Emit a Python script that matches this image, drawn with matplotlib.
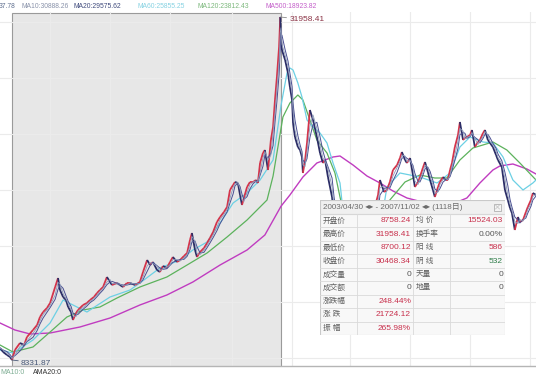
import numpy as np
import pandas as pd
import matplotlib
matplotlib.use('Agg')
import matplotlib.pyplot as plt
from matplotlib.collections import LineCollection
from matplotlib.patches import Rectangle

plt.rcParams['font.family'] = ['Liberation Sans', 'Noto Sans CJK SC', 'DejaVu Sans']

# trading day index, 0 = 2003/04/30, 1117 = 2007/11/02
days = [-50, -37, -21, -8, 0, 12, 33, 50, 62, 87, 104, 116, 129, 145, 158, 179, 191, 199, 212, 224,
        233, 245, 253, 266, 274, 295, 311, 324, 340, 353, 365, 378, 394, 407, 415, 436, 448, 461, 477, 490,
        511, 531, 544, 561, 573, 585, 602, 614, 627, 643, 656, 668, 685, 698, 714, 727, 739, 747, 760, 768,
        781, 797, 810, 822, 835, 851, 864, 880, 893, 905, 918, 926, 938, 947, 955, 963, 976, 988, 1001, 1013,
        1021, 1030, 1042, 1050, 1063, 1075, 1084, 1092, 1100, 1109, 1114, 1117, 1121, 1134, 1146, 1154, 1163, 1167, 1175, 1187,
        1196, 1204, 1208, 1217, 1225, 1237, 1250, 1266, 1279, 1291, 1300, 1312, 1329, 1337, 1349, 1362, 1374, 1387, 1403, 1420,
        1437, 1453, 1470, 1486, 1503, 1520, 1528, 1545, 1557, 1569, 1582, 1599, 1611, 1619, 1632, 1640, 1653, 1665, 1673, 1686,
        1694, 1706, 1715, 1727, 1736, 1748, 1756, 1769, 1777, 1790, 1802, 1810, 1819, 1827, 1839, 1852, 1860, 1873, 1881, 1889,
        1902, 1910, 1922, 1935, 1943, 1956, 1964, 1976, 1985, 1997, 2010, 2018, 2034, 2047, 2059, 2068, 2076, 2088, 2101, 2109,
        2122, 2134, 2142, 2155, 2163, 2176]
close = [9159, 8883, 8677, 8539, 8331.87, 9021, 9503, 9365, 9916, 10399, 10743, 11294, 11638, 11914, 12258, 13360, 13980, 13154, 12672, 12465,
         11983, 11638, 11087, 11570, 11776, 12121, 12258, 12465, 12672, 12947, 13154, 13360, 14049, 13705, 13498, 13636, 13498, 13360, 13636, 13636,
         13498, 13705, 14394, 15220, 14876, 15082, 14531, 14394, 14807, 14669, 15082, 15427, 15082, 15220, 15496, 15702, 16598, 17080, 15909, 15427,
         15771, 16047, 16391, 16736, 17149, 17838, 18182, 18526, 18871, 20042, 20386, 20593, 20524, 19697, 19009, 19491, 20248, 20593, 20593, 20731,
         20524, 21902, 22590, 22797, 21419, 23486, 24381, 26241, 27825, 29892, 31958.41, 30468.34, 29685, 28996, 28101, 27136, 26241, 24657, 23692, 23004,
         22797, 22315, 21213, 22108, 23279, 25552, 24863, 23692, 22590, 21902, 22108, 20937, 19560, 18320, 16598, 14531, 12465, 11294, 12121, 11638,
         12465, 14187, 15565, 17287, 18664, 19697, 20731, 19904, 20042, 20593, 21419, 21764, 22246, 22659, 22108, 21902, 22246, 21075, 20248, 20593,
         20937, 21557, 21970, 21282, 20731, 20042, 19560, 20248, 20593, 20937, 20731, 20731, 21419, 21902, 23004, 23830, 24726, 23486, 23624, 23692,
         23830, 24175, 23004, 23348, 23486, 23968, 24175, 23486, 23279, 23004, 22453, 22108, 21626, 20042, 19353, 18802, 18458, 17287, 18182, 17838,
         17975, 18526, 18871, 19353, 19835, 19697]

ma60_days = [-50, 4, 87, 158, 212, 253, 311, 407, 490, 531, 614, 698, 751, 810, 864, 918, 976, 1030, 1084, 1117,
             1142, 1154, 1167, 1187, 1204, 1225, 1250, 1279, 1308, 1333, 1362, 1374, 1424, 1466, 1507, 1557, 1611, 1694, 1765, 1819,
             1860, 1902, 1956, 1997, 2039, 2080, 2122, 2163, 2176]
ma60 = [9021, 8814, 9710, 10881, 12465, 12121, 11638, 12672, 13154, 13636, 14669, 15220, 15909, 16460, 17769, 19146, 19835, 20731, 22108, 25855,
        28101, 28445, 28307, 27412, 26448, 24863, 24381, 23968, 23279, 21902, 20524, 18664, 14531, 12465, 15220, 20248, 21213, 20937, 20524, 21213,
        23004, 23692, 23348, 23279, 22315, 20731, 20042, 20524, 20731]

ma120_days = [-50, 4, 87, 158, 228, 295, 365, 436, 531, 643, 727, 810, 893, 976, 1059, 1084, 1125, 1154, 1187, 1208,
              1237, 1266, 1308, 1341, 1362, 1403, 1466, 1486, 1549, 1569, 1632, 1694, 1756, 1806, 1860, 1914, 1997, 2055, 2109, 2176]
ma120 = [9365, 8883, 9228, 10261, 11294, 11776, 11983, 12603, 13360, 14049, 14876, 15702, 16804, 17975, 19353, 21000, 25070, 26034, 26585, 26241,
         24863, 23486, 22590, 21213, 19560, 16598, 13843, 13498, 17631, 19353, 20593, 21075, 20868, 20868, 22108, 22935, 23348, 22797, 21902, 20731]

ma500_days = [-50, 12, 75, 158, 282, 407, 531, 643, 751, 864, 976, 1050, 1117, 1154, 1208, 1266, 1333, 1362, 1416, 1474,
              1528, 1582, 1640, 1736, 1819, 1889, 1943, 1997, 2026, 2080, 2138, 2176]
ma500 = [10881, 10399, 10123, 10192, 10605, 11225, 12121, 12809, 13705, 14876, 15909, 16942, 18924, 19697, 20937, 21902, 22315, 22384, 21764, 21006,
         20524, 19973, 19491, 19077, 19009, 19491, 20524, 21419, 21695, 21833, 21489, 21144]

sel_start, sel_end = 0, 1117
peak_day, peak_val = 1114, 31958.41
low_day, low_val = 0, 8331.87

top_labels = ['37.78', 'MA10:30888.26', 'MA20:29575.62', 'MA60:25855.25', 'MA120:23812.43', 'MA500:18923.82']
top_colors = ['#5f6f8f', '#8a93aa', '#3f4a7c', '#86d2e2', '#7cb87c', '#c35ec9']
top_x = [-1, 22, 73, 138, 198, 265]

table_header = '2003/04/30 \u25c2\u25b8 - 2007/11/02 \u25c2\u25b8 (1118日)'
left_names = ['开盘价', '最高价', '最低价', '收盘价', '成交量', '成交额', '涨跌幅', '涨 跌', '振 幅']
left_vals = ['8758.24', '31958.41', '8700.12', '30468.34', '0', '0', '248.44%', '21724.12', '265.98%']
right_names = ['均 价', '换手率', '阳 线', '阴 线', '天量', '地量', '', '', '']
right_vals = ['15524.03', '0.00%', '586', '532', '0', '0', '', '', '']

red = '#c8304c'
gray = '#555555'
green = '#2f7d4a'
left_cols = [red, red, red, red, gray, gray, red, red, red]
right_cols = [red, gray, red, green, gray, gray, gray, gray, gray]

W, H = 536, 378
fig = plt.figure(figsize=(W / 100, H / 100), dpi=100)
fig.patch.set_facecolor('white')

ax = fig.add_axes([0, (H - 366) / H, 1, 354 / H])
ax.set_facecolor('white')
ax.set_xlim(-50, 2176)
ax.set_ylim(7919, 32302)

# grid
ax.set_xticks([158, 407, 656, 914, 1163, 1403, 1653, 1902, 2151])
ax.set_yticks([8469, 12327, 16184, 20042, 23899, 27756, 31614])
ax.tick_params(length=0, labelbottom=False, labelleft=False)
ax.set_axisbelow(True)
ax.grid(color='#ebebeb', lw=0.8)
for s in ['left', 'right', 'top']:
    ax.spines[s].set_visible(False)
ax.spines['bottom'].set_color('#b5b5b5')
ax.spines['bottom'].set_linewidth(1.0)

# selected range
ax.add_patch(Rectangle((sel_start, 7700), sel_end - sel_start, 32302 - 7700 - 80,
                       facecolor='#e7e7e7', edgecolor='#9a9a9a', lw=0.8, zorder=0.2))

ax.plot(ma500_days, ma500, color='#c03cc0', lw=1.0, zorder=2)
ax.plot(ma120_days, ma120, color='#5cb25c', lw=0.9, zorder=2)
ax.plot(ma60_days, ma60, color='#6cd0e4', lw=0.9, zorder=2)

# price, red on the way up and dark on the way down
x = np.array(days, dtype=float)
y = np.array(close, dtype=float)
segs = np.stack([np.column_stack([x[:-1], y[:-1]]), np.column_stack([x[1:], y[1:]])], axis=1)
cols = np.where(np.diff(y) >= 0, '#d3344b', '#2b2d66')
ax.add_collection(LineCollection(segs, colors=cols, linewidths=1.3, zorder=3))

s = pd.Series(close)
ax.plot(days, s.rolling(3, min_periods=1).mean(), color='#4a4f92', lw=0.7, zorder=4)
ax.plot(days, s.rolling(2, min_periods=1).mean(), color='#8d9ab9', lw=0.6, zorder=4)

ax.annotate('31958.41', xy=(peak_day, peak_val), xytext=(9, -3), textcoords='offset pixels',
            ha='left', va='center', fontsize=6, color='#8b3446',
            arrowprops=dict(arrowstyle='-', color='#888888', lw=0.6, shrinkA=0, shrinkB=0))
ax.annotate('8331.87', xy=(low_day, low_val), xytext=(9, -3), textcoords='offset pixels',
            ha='left', va='center', fontsize=6, color='#4a5a78',
            arrowprops=dict(arrowstyle='-', color='#4a5a78', lw=0.6, shrinkA=0, shrinkB=0))

# moving average values across the top
for lab, c, px in zip(top_labels, top_colors, top_x):
    fig.text(px / W, 1 - 6 / H, lab, color=c, fontsize=4.9, ha='left', va='center')

fig.text(0, 1 - 373 / H, 'MA10:0', color='#7fae94', fontsize=5, ha='left', va='center')
fig.text(33 / W, 1 - 373 / H, 'AMA20:0', color='#333333', fontsize=5, ha='left', va='center')

# statistics box
tw, th = 185, 135
tax = fig.add_axes([320 / W, (H - 335) / H, tw / W, th / H])
tax.set_xlim(0, tw)
tax.set_ylim(th, 0)
tax.axis('off')
tax.add_patch(Rectangle((0, 0), tw, th, facecolor='#f8f8f8', edgecolor='#c9c9c9', lw=0.8))
tax.add_patch(Rectangle((0, 0), tw, 14, facecolor='#f0f0f0', edgecolor='#c9c9c9', lw=0.8))
tax.text(3, 7, table_header, fontsize=5.8, color='#6a6a6a', ha='left', va='center',
         family=['Liberation Sans', 'DejaVu Sans', 'Noto Sans CJK SC'])
tax.add_patch(Rectangle((174, 3.5), 7, 7, facecolor='#f4f4f4', edgecolor='#b0b0b0', lw=0.6))
tax.plot([175.5, 179.5], [5, 9], color='#c0c0c0', lw=0.5)
tax.plot([175.5, 179.5], [9, 5], color='#c0c0c0', lw=0.5)

rh = (th - 14) / len(left_names)
for i in range(len(left_names) + 1):
    yy = 14 + i * rh
    tax.plot([0, tw], [yy, yy], color='#dadada', lw=0.6)
for cx in [37, 93, 130]:
    tax.plot([cx, cx], [14, th], color='#dadada', lw=0.6)

for i, (ln, lv, rn, rv) in enumerate(zip(left_names, left_vals, right_names, right_vals)):
    yc = 14 + (i + 0.5) * rh
    tax.text(3, yc, ln, fontsize=5.5, color='#606060', ha='left', va='center')
    tax.text(91, yc, lv, fontsize=6, color=left_cols[i], ha='right', va='center')
    tax.text(96, yc, rn, fontsize=5.5, color='#606060', ha='left', va='center')
    tax.text(183, yc, rv, fontsize=6, color=right_cols[i], ha='right', va='center')

fig.savefig('out.png', dpi=100)
